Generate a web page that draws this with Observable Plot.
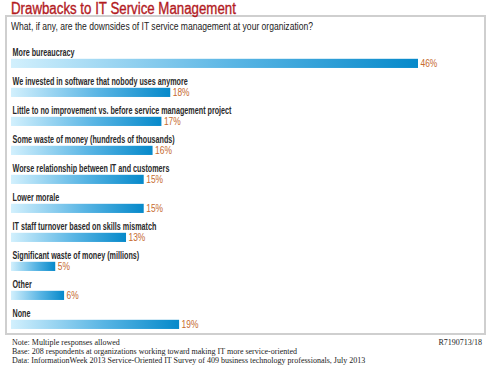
<!DOCTYPE html>
<html><head><meta charset="utf-8">
<script src="https://cdn.jsdelivr.net/npm/d3@7"></script>
<script src="https://cdn.jsdelivr.net/npm/@observablehq/plot@0.6"></script>
<style>
body{margin:0;background:#fff;}
#wrap{position:relative;width:489px;height:372px;overflow:hidden;background:#fff;}
#title{position:absolute;left:11px;top:1px;font-family:"Liberation Sans",sans-serif;font-size:16px;line-height:1;color:#b31b1f;white-space:nowrap;transform:scaleX(0.83);transform-origin:0 0;-webkit-text-stroke:0.35px #b31b1f;}
#box{position:absolute;left:5px;top:15px;width:477px;height:316px;border:2px solid #cfcfcf;}
#sub{position:absolute;left:11px;top:21px;font-family:"Liberation Sans",sans-serif;font-size:10px;line-height:1.2;color:#222;white-space:nowrap;transform:scaleX(0.855);transform-origin:0 0;}
#plot{position:absolute;left:0;top:0;}
.foot{position:absolute;font-family:"Liberation Serif",serif;font-size:8px;color:#222;white-space:nowrap;}
</style></head>
<body><div id="wrap">
<div id="box"></div>
<div id="title">Drawbacks to IT Service Management</div>
<div id="sub">What, if any, are the downsides of IT service management at your organization?</div>
<div id="plot"></div>
<div class="foot" style="left:12px;top:338px">Note: Multiple responses allowed</div>
<div class="foot" style="left:12px;top:347px">Base: 208 respondents at organizations working toward making IT more service-oriented</div>
<div class="foot" style="left:12px;top:356px">Data: InformationWeek 2013 Service-Oriented IT Survey of 409 business technology professionals, July 2013</div>
<div class="foot" style="right:7px;top:338px">R7190713/18</div>
</div>
<script>
const categories = [
  "More bureaucracy",
  "We invested in software that nobody uses anymore",
  "Little to no improvement vs. before service management project",
  "Some waste of money (hundreds of thousands)",
  "Worse relationship between IT and customers",
  "Lower morale",
  "IT staff turnover based on skills mismatch",
  "Significant waste of money (millions)",
  "Other",
  "None"
];
const values = [46, 18, 17, 16, 15, 15, 13, 5, 6, 19];
const valueLabels = ["46%", "18%", "17%", "16%", "15%", "15%", "13%", "5%", "6%", "19%"];

const data = categories.map((c, i) => ({cat: c, value: values[i], label: valueLabels[i]}));

const step = 29.44;
const y0 = 43.2;
const chart = Plot.plot({
  width: 489,
  height: 345,
  margin: 0,
  x: {domain: [0, 46], range: [11, 418], axis: null},
  y: {domain: categories, range: [y0, y0 + step * categories.length], padding: 0, axis: null},
  style: {background: "transparent", overflow: "visible"},
  marks: [
    () => {
      const svg = d3.create("svg:defs");
      const g = svg.append("linearGradient").attr("id", "barGrad").attr("x1", 0).attr("x2", 1).attr("y1", 0).attr("y2", 0);
      g.append("stop").attr("offset", "0%").attr("stop-color", "#d2f0fd");
      g.append("stop").attr("offset", "55%").attr("stop-color", "#59b5e4");
      g.append("stop").attr("offset", "100%").attr("stop-color", "#0689ca");
      return svg.node();
    },
    Plot.barX(data, {x: "value", y: "cat", fill: "url(#barGrad)", insetTop: 13.8, insetBottom: step - 13.8 - 9.6}),
    Plot.text(data, {x: 0, y: "cat", text: "cat", textAnchor: "start", dx: 1, dy: -6.8,
      fontFamily: "Liberation Sans, sans-serif", fontSize: 10, fontWeight: "bold", fill: "#2a2a2a"}),
    Plot.text(data, {x: "value", y: "cat", text: "label", textAnchor: "start", dx: 2, dy: 4,
      fontFamily: "Liberation Sans, sans-serif", fontSize: 10.5, fill: "#c66a2e"})
  ]
});
// horizontally condense the text marks (the reference uses a condensed face)
chart.querySelectorAll("text").forEach(t => {
  const isValue = (t.textContent || "").endsWith("%");
  const k = isValue ? 0.8 : 0.72;
  const tr = t.getAttribute("transform");
  if (tr) {
    t.setAttribute("transform", tr + ` scale(${k},1)`);
  } else {
    const x = +(t.getAttribute("x") || 0), y = +(t.getAttribute("y") || 0);
    t.removeAttribute("x"); t.removeAttribute("y");
    t.setAttribute("transform", `translate(${x},${y}) scale(${k},1)`);
  }
});
document.getElementById("plot").appendChild(chart);
</script>
</body></html>
